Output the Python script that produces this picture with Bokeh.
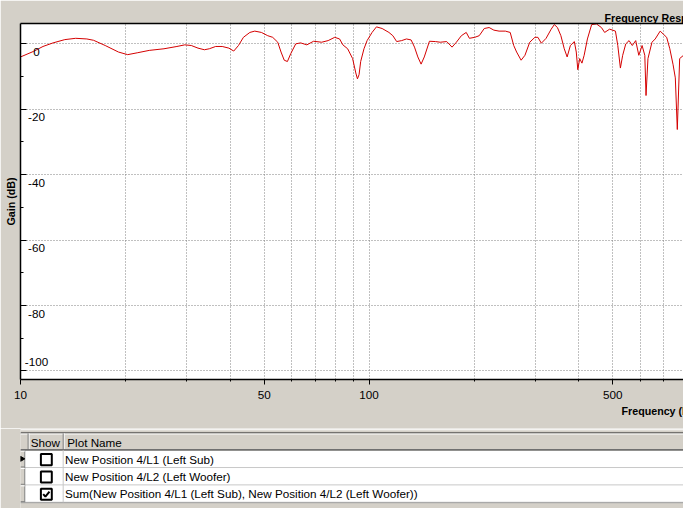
import math
from bokeh.plotting import figure
from bokeh.models import Range1d, FixedTicker, LogAxis, Title, ColumnDataSource
from bokeh.layouts import column
from bokeh.embed import file_html
from bokeh.resources import INLINE
from bokeh.core.properties import value

# ---------------- data ----------------
freq_hz = [
    10.0, 10.9, 11.6, 12.4, 13.4, 14.4, 15.5, 16.2, 17.5, 19.1,
    20.3, 21.7, 23.4, 25.8, 28.1, 29.6, 30.9, 32.3, 33.7, 34.8,
    36.3, 37.9, 39.6, 40.9, 42.2, 43.6, 45.5, 47.0, 49.1, 51.2,
    52.9, 54.7, 55.9, 57.1, 58.3, 59.6, 61.6, 63.6, 66.3, 69.3,
    73.1, 76.3, 79.7, 82.3, 84.1, 86.8, 89.7, 91.6, 92.6, 93.6,
    94.6, 96.7, 98.7, 102, 105, 109, 114, 117, 120, 124,
    128, 132, 135, 138, 141, 144, 149, 155, 160, 167,
    173, 178, 184, 190, 194, 201, 207, 214, 221, 228,
    236, 246, 254, 260, 265, 273, 280, 289, 299, 305,
    312, 322, 333, 340, 347, 355, 363, 370, 378, 388,
    393, 397, 402, 408, 414, 423, 435, 449, 464, 474,
    490, 509, 517, 526, 534, 545, 557, 569, 582, 594,
    607, 618, 623, 631, 648, 662, 684, 698, 714, 729,
    745, 756, 766, 778, 798,
]
gain_db = [
    -4.0, -2.3, -0.8, 0.3, 1.3, 1.7, 1.5, 1.1, -0.5, -2.5,
    -3.3, -2.7, -2.0, -1.5, -0.8, -0.3, -0.5, -1.3, -1.8, -1.5,
    -0.8, -0.8, -1.3, -2.2, -0.5, 2.0, 3.5, 3.9, 3.5, 2.5,
    2.0, 0.5, -2.5, -5.0, -5.4, -3.0, 0.0, 0.3, -0.3, 0.8,
    0.5, 1.0, 2.0, 1.5, -0.3, -1.5, -4.5, -8.9, -10.7, -9.4,
    -5.4, -1.5, 1.0, 3.5, 5.2, 4.7, 3.5, 2.5, 0.7, 1.0,
    1.5, 1.2, -1.0, -4.0, -6.2, -4.0, 0.8, 0.7, 0.5, 0.7,
    -1.0, 0.5, 2.5, 3.5, 1.7, 2.0, 2.5, 4.7, 5.0, 4.2,
    3.9, 3.9, 3.5, -0.5, -2.5, -5.0, -3.5, 0.5, 2.0, 2.0,
    0.2, 1.7, 4.5, 5.9, 5.0, 2.5, -1.5, -4.0, -0.5, 0.7,
    -2.5, -7.9, -4.5, -5.9, -3.5, 1.5, 5.9, 6.1, 5.0, 3.5,
    4.5, 3.9, -0.5, -7.4, -3.5, 0.0, 1.0, -0.5, 1.0, -3.5,
    -0.5, -3.5, -15.8, -4.5, 0.5, 1.5, 3.9, 3.0, 2.0, -1.5,
    -6.4, -10.4, -26.2, -4.5, -3.5,
]

x_major_ticks = [10, 50, 100, 500]
x_tick_labels = ["10", "50", "100", "500"]
x_minor_ticks = [20, 30, 40, 60, 70, 80, 90, 200, 300, 400, 600, 700]
y_major_ticks = [-100, -80, -60, -40, -20, 0]
y_tick_labels = ["-100", "-80", "-60", "-40", "-20", "0"]
y_minor_ticks = [-90, -70, -50, -30, -10]

title_text = "Frequency Response"
x_label_text = "Frequency (Hz)"
y_label_text = "Gain (dB)"

col_headers = ["Show", "Plot Name"]
plot_names = [
    "New Position 4/L1 (Left Sub)",
    "New Position 4/L2 (Left Woofer)",
    "Sum(New Position 4/L1 (Left Sub), New Position 4/L2 (Left Woofer))",
]
show_flags = [False, False, True]
current_row = 0

# ---------------- styles ----------------
GRAY = "#d4d0c8"
FONT = "Liberation Sans"
GRID = "#808080"
CURVE = "#d40000"
FS = "11.7px"
FS_BOLD = "10.7px"

# ---------------- chart ----------------
p = figure(width=683, height=428, x_axis_type="log",
           x_range=Range1d(10, 798), y_range=Range1d(-102.67, 6.23),
           output_backend="svg", toolbar_location=None,
           min_border_left=20, min_border_right=0, min_border_top=23, min_border_bottom=49,
           background_fill_color="white", border_fill_color=GRAY,
           outline_line_color=None)

xt = FixedTicker(ticks=x_major_ticks, minor_ticks=x_minor_ticks)
yt = FixedTicker(ticks=y_major_ticks, minor_ticks=y_minor_ticks)

xa = p.xaxis[0]
xa.ticker = xt
xa.major_label_overrides = {t: l for t, l in zip(x_major_ticks, x_tick_labels)}
xa.major_tick_in = 0
xa.major_tick_out = 5
xa.minor_tick_in = 0
xa.minor_tick_out = 2
xa.axis_line_color = "black"
xa.axis_line_width = 1.5
xa.major_tick_line_color = "black"
xa.minor_tick_line_color = "black"
xa.major_label_standoff = 6
xa.major_label_text_font = FONT
xa.major_label_text_font_size = FS
xa.major_label_text_color = "black"

ya = p.yaxis[0]
ya.ticker = yt
ya.major_tick_in = 6
ya.major_tick_out = 0
ya.minor_tick_in = 3
ya.minor_tick_out = 0
ya.axis_line_color = "black"
ya.axis_line_width = 1.5
ya.major_tick_line_color = "black"
ya.minor_tick_line_color = "black"
ya.major_label_text_font_size = "1px"
ya.major_label_text_color = None
ya.major_label_standoff = 0
ya.axis_label = y_label_text
ya.axis_label_standoff = 4
ya.axis_label_text_font = FONT
ya.axis_label_text_font_style = "bold"
ya.axis_label_text_font_size = FS_BOLD
ya.axis_label_text_color = "black"

p.xgrid.ticker = xt
p.ygrid.ticker = yt
p.xgrid.grid_line_color = GRID
p.xgrid.grid_line_dash = "1 2"
p.xgrid.minor_grid_line_color = GRID
p.xgrid.minor_grid_line_dash = "1 2"
p.ygrid.grid_line_color = GRID
p.ygrid.grid_line_dash = "1 2"
p.ygrid.minor_grid_line_color = None

top_axis = LogAxis(ticker=FixedTicker(ticks=[]), major_label_text_font_size="1px",
                   major_label_text_color=None,
                   major_tick_in=0, major_tick_out=0, minor_tick_in=0, minor_tick_out=0,
                   major_label_standoff=0, axis_line_color="black", axis_line_width=1.5)
p.add_layout(top_axis, "above")
p.add_layout(Title(text=title_text, align="left", offset=584, standoff=0,
                   text_font=FONT, text_font_style="bold", text_font_size=FS_BOLD,
                   text_color="black"), "above")
p.add_layout(Title(text=x_label_text, align="left", offset=601, standoff=2,
                   text_font=FONT, text_font_style="bold", text_font_size=FS_BOLD,
                   text_color="black"), "below")

p.line(freq_hz, gain_db, line_color=CURVE, line_width=1)

lowest = min(y_major_ticks)
ylab_src = ColumnDataSource(dict(
    x=[p.x_range.start] * len(y_major_ticks),
    y=y_major_ticks,
    text=y_tick_labels,
    yoff=[-9.2 if t == lowest else 8.2 for t in y_major_ticks],
))
p.text(x="x", y="y", text="text", source=ylab_src, x_offset=16, y_offset="yoff",
       text_align="center", text_baseline="middle", text_font=value(FONT),
       text_font_size=FS, text_color="black")

# ---------------- table (drawn in reference pixel units) ----------------
t = figure(width=683, height=80, x_range=Range1d(0, 699), y_range=Range1d(524, 441),
           output_backend="svg", toolbar_location=None, min_border=0,
           x_axis_type=None, y_axis_type=None,
           background_fill_color=GRAY, border_fill_color=GRAY, outline_line_color=None)
t.grid.visible = False

row_h = 18
header_top, header_bot = 446, 463.5
n = len(plot_names)
row_tops = [header_bot + i * row_h for i in range(n)]
row_bots = [rt + row_h for rt in row_tops]
row_mid = [rt + row_h / 2 for rt in row_tops]
rh_r = 4.5          # row-header column right edge
show_l, show_r = 8.5, 45
right = 699
table_bot = row_bots[-1]

# splitter above the table
t.segment(x0=[0], y0=[442.3], x1=[right], y1=[442.3], line_color="white", line_width=1)
t.segment(x0=[0], y0=[445.6], x1=[right], y1=[445.6], line_color="#303030", line_width=1)

# header cells (3D look)
t.segment(x0=[0], y0=[446.7], x1=[right], y1=[446.7], line_color="white", line_width=1)
t.segment(x0=[show_l + 0.5, show_r + 1], y0=[header_top, header_top],
          x1=[show_l + 0.5, show_r + 1], y1=[header_bot, header_bot],
          line_color="white", line_width=1)
t.segment(x0=[show_l - 0.5, show_r], y0=[header_top, header_top],
          x1=[show_l - 0.5, show_r], y1=[header_bot, header_bot],
          line_color="#808080", line_width=1)
t.segment(x0=[0], y0=[header_bot - 0.6], x1=[right], y1=[header_bot - 0.6],
          line_color="#808080", line_width=1)
t.segment(x0=[0], y0=[header_bot], x1=[right], y1=[header_bot],
          line_color="#404040", line_width=1)

# row cells
t.quad(left=rh_r, right=right, top=header_bot + 0.5, bottom=table_bot,
       fill_color="white", line_color=None)
t.segment(x0=[rh_r] * n, y0=row_bots, x1=[right] * n, y1=row_bots,
          line_color="#c8c8c8", line_width=1)
t.segment(x0=[0], y0=[table_bot + 0.5], x1=[right], y1=[table_bot + 0.5],
          line_color="#a0a0a0", line_width=1)
t.segment(x0=[show_r], y0=[header_bot], x1=[show_r], y1=[table_bot],
          line_color="#c8c8c8", line_width=1)
# row-header column
t.segment(x0=[rh_r], y0=[header_bot], x1=[rh_r], y1=[table_bot],
          line_color="#808080", line_width=1)
t.segment(x0=[0] * n, y0=[rb - 0.6 for rb in row_bots], x1=[rh_r] * n,
          y1=[rb - 0.6 for rb in row_bots], line_color="#808080", line_width=1)
t.segment(x0=[0] * n, y0=[rt + 1 for rt in row_tops], x1=[rh_r] * n,
          y1=[rt + 1 for rt in row_tops], line_color="white", line_width=1)
t.scatter(x=[1.5], y=[row_mid[current_row]], marker="triangle", angle=-math.pi / 2,
          size=5, fill_color="black", line_color="black")

# header texts
hdr_mid = (header_top + header_bot) / 2 + 0.5
t.text(x=[10.7, 49.3], y=[hdr_mid, hdr_mid], text=col_headers, text_align="left",
       text_baseline="middle", text_font=value(FONT), text_font_size=FS, text_color="black")

# checkboxes
cb_x = (show_l + show_r) / 2 + 0.5
t.rect(x=[cb_x] * n, y=[m + 0.8 for m in row_mid], width=11.5, height=11.5,
       fill_color="white", line_color="black", line_width=2)
check_shape = [(-3.3, -0.2), (-1.0, 2.4), (3.3, -2.8)]
xs, ys = [], []
for flag, ym in zip(show_flags, row_mid):
    if flag:
        xs.append([cb_x + dx for dx, dy in check_shape])
        ys.append([ym + 0.8 + dy for dx, dy in check_shape])
t.multi_line(xs=xs, ys=ys, line_color="black", line_width=2)

# plot names
t.text(x=[47] * n, y=[m + 0.3 for m in row_mid], text=plot_names, text_align="left",
       text_baseline="middle", text_font=value(FONT), text_font_size=FS, text_color="black")

layout = column(p, t, spacing=0)
open("out.html", "w").write(file_html(layout, INLINE))
